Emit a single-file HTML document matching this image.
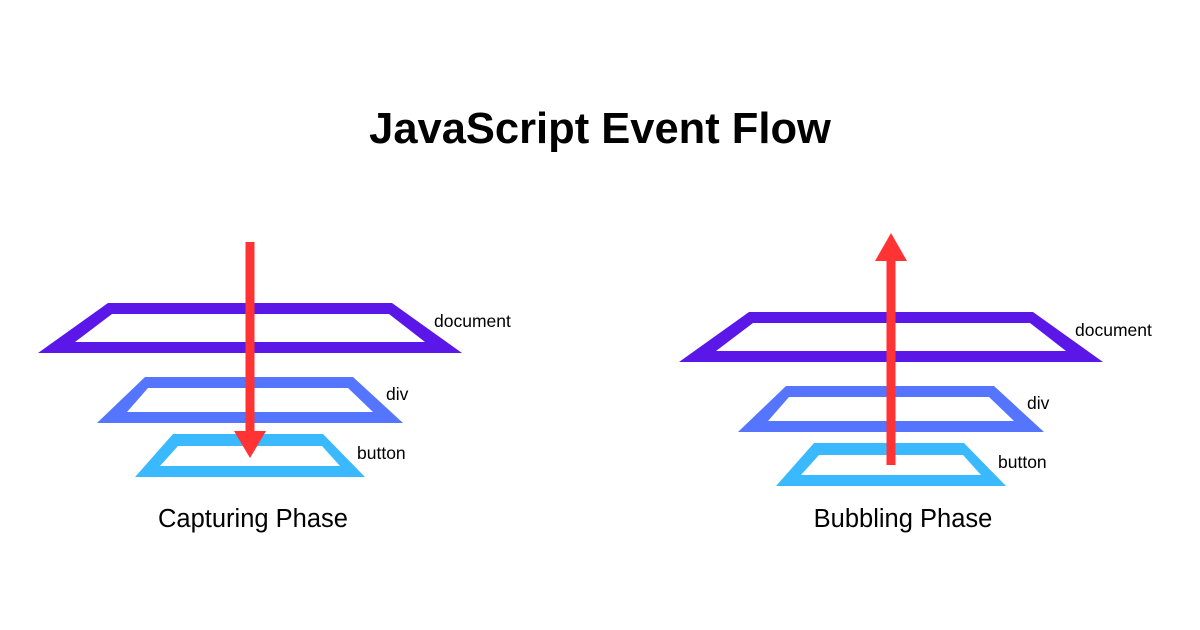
<!DOCTYPE html>
<html><head><meta charset="utf-8"><style>
html,body{margin:0;padding:0;background:#fff;}
svg{display:block}
text{font-family:"Liberation Sans",sans-serif;fill:#000}
</style></head><body>
<svg width="1200" height="630" viewBox="0 0 1200 630" xmlns="http://www.w3.org/2000/svg">
<text x="600" y="143" text-anchor="middle" font-size="43.5" font-weight="bold">JavaScript Event Flow</text>
<g>
<path fill-rule="evenodd" fill="#5B17E8" d="M108,303 L392,303 L462,353 L38,353 Z M112,314 L75,342 L425,342 L389,314 Z"/>
<path fill-rule="evenodd" fill="#5575FF" d="M145,377 L353,377 L403,423 L97,423 Z M148,388 L127,412 L373,412 L348,388 Z"/>
<path fill-rule="evenodd" fill="#3BB9FF" d="M173,434 L323,434 L365,477 L135,477 Z M178,446 L160,466 L340,466 L322,446 Z"/>
</g>
<rect x="245.5" y="242" width="9" height="192" fill="#FF3333"/>
<polygon points="234,431 266,431 250,458" fill="#FF3333"/>
<text x="434" y="327" font-size="17.5">document</text>
<text x="386" y="400" font-size="17.5">div</text>
<text x="357" y="459" font-size="17.5">button</text>
<text x="253" y="527" text-anchor="middle" font-size="25.5">Capturing Phase</text>

<g transform="translate(641,9)">
<path fill-rule="evenodd" fill="#5B17E8" d="M108,303 L392,303 L462,353 L38,353 Z M112,314 L75,342 L425,342 L389,314 Z"/>
<path fill-rule="evenodd" fill="#5575FF" d="M145,377 L353,377 L403,423 L97,423 Z M148,388 L127,412 L373,412 L348,388 Z"/>
<path fill-rule="evenodd" fill="#3BB9FF" d="M173,434 L323,434 L365,477 L135,477 Z M178,446 L160,466 L340,466 L322,446 Z"/>
</g>
<rect x="886.5" y="258" width="9" height="207" fill="#FF3333"/>
<polygon points="875,261 907,261 891,233" fill="#FF3333"/>
<text x="1075" y="336" font-size="17.5">document</text>
<text x="1027" y="409" font-size="17.5">div</text>
<text x="998" y="468" font-size="17.5">button</text>
<text x="903" y="527" text-anchor="middle" font-size="25.5">Bubbling Phase</text>
</svg>
</body></html>
